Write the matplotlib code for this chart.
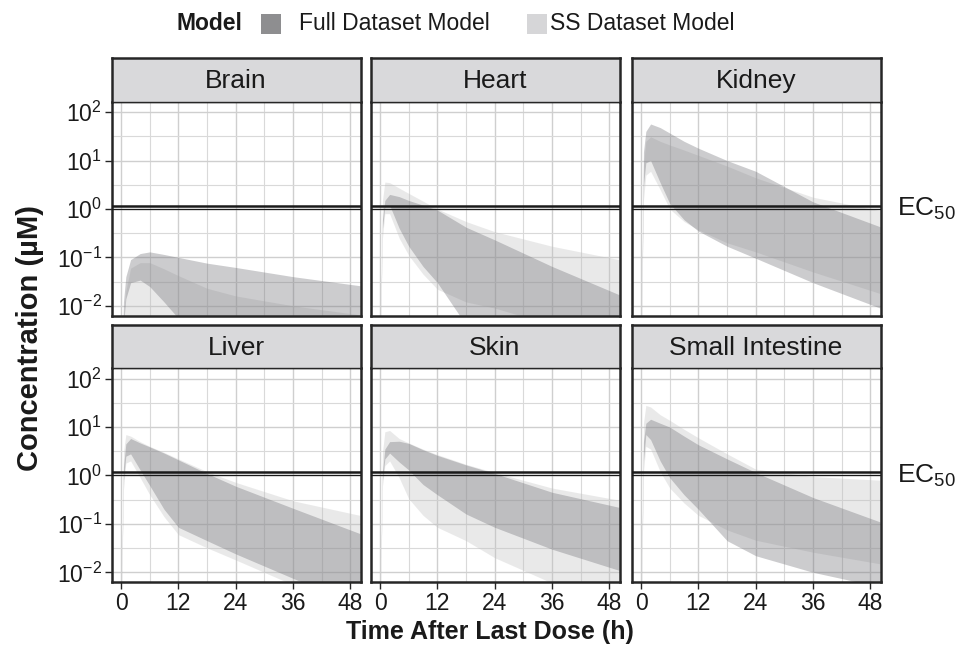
import numpy as np
import matplotlib
matplotlib.use("Agg")
import matplotlib.pyplot as plt
import matplotlib.transforms as mtransforms
from matplotlib.patches import Rectangle

plt.rcParams['font.family'] = ['Liberation Sans', 'DejaVu Sans']
plt.rcParams['mathtext.fontset'] = 'custom'
plt.rcParams['mathtext.rm'] = 'Liberation Sans'
plt.rcParams['mathtext.it'] = 'Liberation Sans:italic'
plt.rcParams['mathtext.bf'] = 'Liberation Sans:bold'

# time grid (h) shared by all ribbons
t = [0, 0.5, 1, 2, 4, 6, 9, 12, 18, 24, 36, 50]

tissues = ['Brain', 'Heart', 'Kidney', 'Liver', 'Skin', 'Small Intestine']

# ribbons: lower / upper bounds per model (uM)
brain_full_lo = [1e-4, 0.004, 0.014, 0.03, 0.034, 0.025, 0.012, 0.0055, 0.002, 0.001, 3e-4, 1e-4]
brain_full_hi = [1e-4, 0.012, 0.04, 0.09, 0.12, 0.13, 0.115, 0.10, 0.076, 0.062, 0.04, 0.026]
brain_ss_lo = [1e-4, 5e-4, 1e-3, 2e-3, 2e-3, 1.5e-3, 1e-3, 6e-4, 3e-4, 1e-4, 5e-5, 2e-5]
brain_ss_hi = [1e-4, 0.006, 0.02, 0.06, 0.078, 0.078, 0.058, 0.042, 0.023, 0.016, 0.010, 0.0065]

heart_full_lo = [1e-3, 0.4, 1.1, 1.2, 0.4, 0.17, 0.065, 0.03, 0.004, 0.002, 5e-4, 1e-4]
heart_full_hi = [1e-3, 0.6, 1.5, 2.0, 1.8, 1.5, 1.2, 0.95, 0.42, 0.23, 0.065, 0.017]
heart_ss_lo = [1e-3, 0.25, 0.8, 0.8, 0.25, 0.11, 0.045, 0.022, 0.012, 0.009, 0.004, 0.0015]
heart_ss_hi = [1e-3, 1.5, 3.6, 3.5, 2.7, 2.1, 1.45, 1.0, 0.55, 0.34, 0.17, 0.09]

kidney_full_lo = [1e-3, 3, 9, 10, 3.5, 1.3, 0.6, 0.35, 0.17, 0.096, 0.03, 0.009]
kidney_full_hi = [1e-3, 15, 40, 57, 48, 37, 25, 18, 10, 6.0, 1.4, 0.43]
kidney_ss_lo = [1e-3, 1.5, 5, 6, 2.5, 1.0, 0.55, 0.37, 0.2, 0.13, 0.05, 0.018]
kidney_ss_hi = [1e-3, 8, 25, 31, 25, 21, 16.5, 12.8, 7.7, 4.4, 1.75, 0.92]

liver_full_lo = [1e-3, 0.8, 2.5, 2.8, 1.3, 0.62, 0.2, 0.085, 0.045, 0.024, 0.0075, 0.002]
liver_full_hi = [1e-3, 1.5, 4.5, 5.8, 4.7, 3.9, 2.9, 2.1, 1.1, 0.6, 0.21, 0.063]
liver_ss_lo = [1e-3, 0.5, 1.8, 2.0, 0.9, 0.4, 0.14, 0.06, 0.032, 0.018, 0.0055, 0.0015]
liver_ss_hi = [1e-3, 3, 7.0, 6.5, 5.0, 4.0, 3.0, 2.2, 1.2, 0.72, 0.3, 0.15]

skin_full_lo = [1e-3, 0.8, 2.2, 2.9, 1.9, 1.3, 0.65, 0.4, 0.16, 0.085, 0.03, 0.011]
skin_full_hi = [1e-3, 1.2, 3.5, 5.0, 5.1, 4.6, 3.4, 2.6, 1.65, 1.1, 0.45, 0.22]
skin_ss_lo = [1e-3, 0.6, 1.6, 2.0, 0.9, 0.33, 0.15, 0.085, 0.045, 0.02, 0.006, 0.002]
skin_ss_hi = [1e-3, 3, 8.0, 8.5, 5.8, 4.7, 3.5, 2.7, 1.7, 1.15, 0.55, 0.31]

si_full_lo = [1e-3, 2, 7, 5.5, 2.0, 0.9, 0.4, 0.2, 0.045, 0.022, 0.01, 0.005]
si_full_hi = [1e-3, 5, 12, 14.5, 12, 10, 6.5, 4.3, 2.2, 1.15, 0.35, 0.11]
si_ss_lo = [1e-3, 1.2, 4, 3.5, 1.2, 0.55, 0.27, 0.15, 0.075, 0.046, 0.026, 0.015]
si_ss_hi = [1e-3, 12, 28, 26, 18, 13.8, 9, 6, 2.8, 1.35, 0.95, 0.8]

full_lo = [brain_full_lo, heart_full_lo, kidney_full_lo, liver_full_lo, skin_full_lo, si_full_lo]
full_hi = [brain_full_hi, heart_full_hi, kidney_full_hi, liver_full_hi, skin_full_hi, si_full_hi]
ss_lo = [brain_ss_lo, heart_ss_lo, kidney_ss_lo, liver_ss_lo, skin_ss_lo, si_ss_lo]
ss_hi = [brain_ss_hi, heart_ss_hi, kidney_ss_hi, liver_ss_hi, skin_ss_hi, si_ss_hi]

ec50 = 1.18
ref_line = 1.0

x_ticks = [0, 12, 24, 36, 48]
y_ticks = [1e-2, 1e-1, 1e0, 1e1, 1e2]
y_tick_labels = ['$10^{-2}$', '$10^{-1}$', '$10^{0}$', '$10^{1}$', '$10^{2}$']

W, H = 955, 645
fig = plt.figure(figsize=(W / 100, H / 100), dpi=100)


def rect(x0, y0, x1, y1):
    return [x0 / W, 1 - y1 / H, (x1 - x0) / W, (y1 - y0) / H]


cols = [(111.5, 360.5), (370.5, 619.5), (631.5, 880.5)]
plot_rows = [(101.5, 315.5), (368, 582)]
strip_rows = [(58, 101.5), (325, 368)]

dark = '#262626'
full_color = '#6e6e74'
ss_color = '#bdbdbd'

for i, name in enumerate(tissues):
    r, c = divmod(i, 3)
    x0, x1 = cols[c]
    ax = fig.add_axes(rect(x0, plot_rows[r][0], x1, plot_rows[r][1]))
    ax.set_yscale('log')
    ax.set_axisbelow(True)

    ax.fill_between(t, ss_lo[i], ss_hi[i], color=ss_color, alpha=0.32, lw=0)
    ax.fill_between(t, full_lo[i], full_hi[i], color=full_color, alpha=0.35, lw=0)

    ax.axhline(ec50, color='#1a1a1a', lw=1.8, zorder=3)
    ax.axhline(ref_line, color='#1a1a1a', lw=0.9, zorder=3)

    ax.set_xlim(-2, 50.1)
    ax.set_ylim(10 ** -2.2, 10 ** 2.22)
    ax.set_xticks(x_ticks)
    ax.set_xticks([6, 18, 30, 42], minor=True)
    ax.set_yticks(y_ticks)
    ax.set_yticks([10 ** -1.5, 10 ** -0.5, 10 ** 0.5, 10 ** 1.5], minor=True)
    ax.set_yticklabels(y_tick_labels)
    ax.set_yticklabels([], minor=True)
    ax.grid(True, which='major', color='#cfcfcf', lw=1.0)
    ax.grid(True, which='minor', color='#d9d9d9', lw=0.8)
    ax.tick_params(which='minor', length=0)
    ax.tick_params(which='major', length=5, width=1.0, color=dark,
                   labelsize=16.5, labelcolor='#1a1a1a', pad=2)
    if c != 0:
        ax.tick_params(axis='y', which='both', length=0, labelleft=False)
    if r == 0:
        ax.tick_params(axis='x', which='both', length=0, labelbottom=False)
    for s in ax.spines.values():
        s.set_linewidth(1.8)
        s.set_color(dark)
    ax.spines['top'].set_linewidth(1.0)

    if c == 2:
        tr = mtransforms.blended_transform_factory(ax.transAxes, ax.transData)
        ax.text(1.065, 1.0, 'EC$_{50}$', transform=tr, fontsize=19,
                va='center', ha='left', color='#1a1a1a')

    sax = fig.add_axes(rect(x0, strip_rows[r][0], x1, strip_rows[r][1]))
    sax.set_facecolor('#d9d9db')
    sax.set_xticks([])
    sax.set_yticks([])
    for s in sax.spines.values():
        s.set_linewidth(1.8)
        s.set_color(dark)
    sax.spines['bottom'].set_linewidth(1.0)
    sax.text(0.5, 0.47, name, ha='center', va='center', fontsize=19,
             color='#1a1a1a', transform=sax.transAxes)

# axis titles
fig.text(490 / W, 1 - 632 / H, 'Time After Last Dose (h)', ha='center',
         va='center', fontsize=18, fontweight='bold', color='#1a1a1a')
fig.text(30 / W, 1 - 338 / H, 'Concentration (\u00b5M)', ha='center',
         va='center', rotation=90, fontsize=21, fontweight='bold', color='#1a1a1a')

# legend
fig.text(176 / W, 1 - 24 / H, 'Model', ha='left', va='center', fontsize=16.5,
         fontweight='bold', color='#1a1a1a')
fig.add_artist(Rectangle((261 / W, 1 - 34 / H), 20 / W, 20 / H,
                         transform=fig.transFigure, color='#8e8e90', lw=0))
fig.text(299 / W, 1 - 24 / H, 'Full Dataset Model', ha='left', va='center',
         fontsize=16.5, color='#1a1a1a')
fig.add_artist(Rectangle((527 / W, 1 - 34 / H), 20 / W, 20 / H,
                         transform=fig.transFigure, color='#d6d6d8', lw=0))
fig.text(550 / W, 1 - 24 / H, 'SS Dataset Model', ha='left', va='center',
         fontsize=16.5, color='#1a1a1a')

fig.savefig('out.png', dpi=100)
